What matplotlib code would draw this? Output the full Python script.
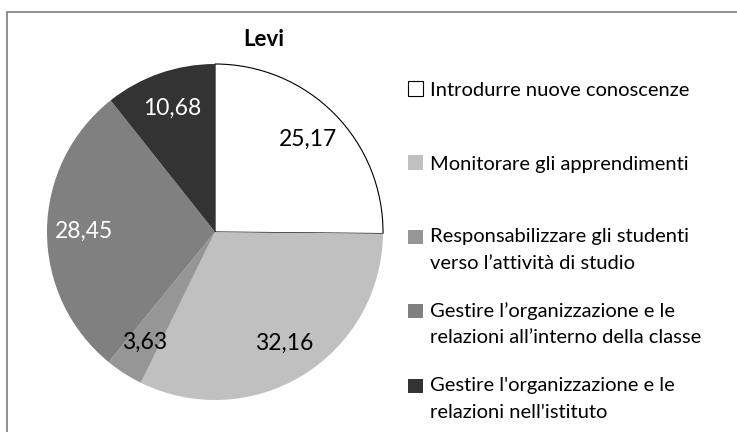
import matplotlib
matplotlib.use('Agg')
import matplotlib.pyplot as plt
from matplotlib.patches import Rectangle
from matplotlib.legend_handler import HandlerPatch

categories = ['Introdurre nuove conoscenze',
              'Monitorare gli apprendimenti',
              'Responsabilizzare gli studenti\nverso l\u2019attività di studio',
              'Gestire l\u2019organizzazione e le\nrelazioni all\u2019interno della classe',
              "Gestire l'organizzazione e le\nrelazioni nell'istituto"]
values = [25.17, 32.16, 3.63, 28.45, 10.68]
colors = ['#ffffff', '#c0c0c0', '#969696', '#808080', '#333333']
label_colors = ['black', 'black', 'black', 'white', 'white']

W, H = 737, 432
plt.rcParams['font.family'] = ['Lato', 'DejaVu Sans']

fig = plt.figure(figsize=(W / 100, H / 100), dpi=100)

# pie centre ~(215, 232) px, radius ~168 px
cx, cy, r = 215, 232, 168
ax = fig.add_axes([(cx - r) / W, (H - cy - r) / H, 2 * r / W, 2 * r / H])
wedges, texts, autotexts = ax.pie(values, colors=colors, startangle=90,
                                  counterclock=False, autopct='%.2f',
                                  pctdistance=0.78,
                                  wedgeprops=dict(linewidth=0))
wedges[0].set_edgecolor('black')
wedges[0].set_linewidth(0.8)
for t, v, c in zip(autotexts, values, label_colors):
    t.set_text(f'{v:.2f}'.replace('.', ','))
    t.set_color(c)
    t.set_fontsize(16.5)
ax.set_xlim(-1, 1)
ax.set_ylim(-1, 1)
ax.set_aspect('equal')

fig.text(264 / W, 1 - 39 / H, 'Levi', ha='center', va='center',
         fontsize=16, fontweight='bold')


def square_at_first_line(shift):
    # keep the marker next to the first line of a wrapped label
    def make(legend, orig_handle, xdescent, ydescent, width, height, fontsize):
        return Rectangle((-xdescent, -ydescent + shift), width, height)
    return make


# legend entries, spaced like the original
legend_y = [90, 164, 250, 324, 399]
fs = 14.5
for w, lab, y in zip(wedges, categories, legend_y):
    extra = lab.count('\n')
    shift = extra * 13 * 72 / 100
    leg = fig.legend([w], [lab], loc='center left',
                     bbox_to_anchor=(408 / W, 1 - y / H), frameon=False,
                     fontsize=fs, handlelength=15 / (fs * 100 / 72),
                     handleheight=15 / (fs * 100 / 72),
                     handletextpad=0.35, borderpad=0, borderaxespad=0,
                     handler_map={w: HandlerPatch(patch_func=square_at_first_line(shift))})
    for t in leg.get_texts():
        t.set_linespacing(1.65)

fig.patches.append(Rectangle((7 / W, -0.1), 1.1, (H - 12) / H + 0.1,
                             transform=fig.transFigure, fill=False,
                             edgecolor='#888888', linewidth=1.3))

fig.savefig('out.png', dpi=100)
